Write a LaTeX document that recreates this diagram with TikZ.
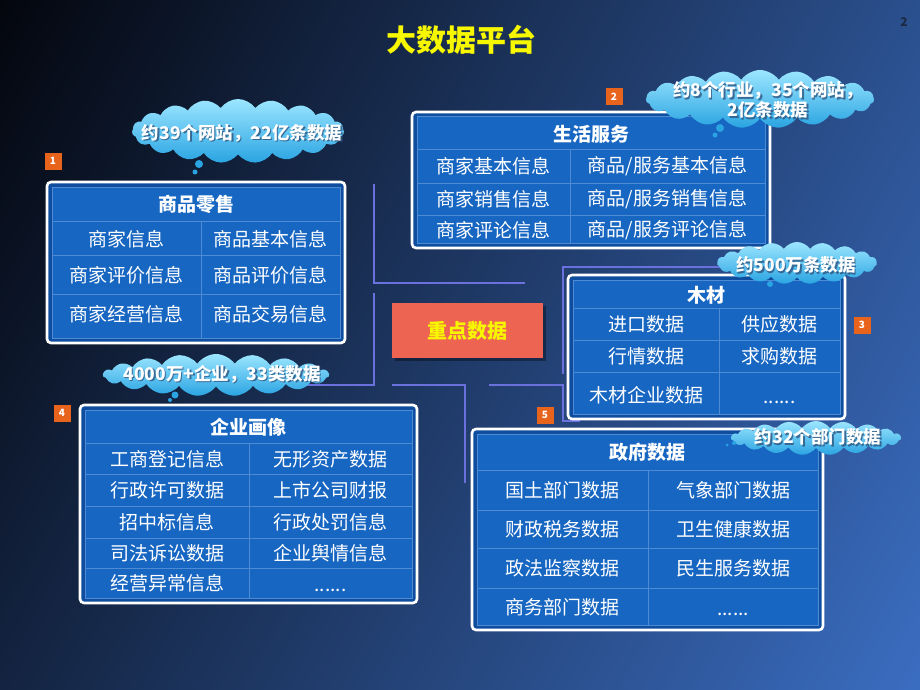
\documentclass[tikz,border=0pt]{standalone}
\usepackage{fontspec}
\setmainfont{Noto Sans CJK SC}
\usetikzlibrary{shapes.symbols}
\definecolor{bgdark}{HTML}{020308}
\definecolor{bgmid}{HTML}{14294F}
\definecolor{bglight}{HTML}{3C70C6}
\definecolor{framedark}{HTML}{0F4E9E}
\definecolor{cellblue}{HTML}{1766C2}
\definecolor{gridblue}{HTML}{4F8AD4}
\definecolor{linkblue}{HTML}{6A70DC}
\definecolor{numorange}{HTML}{E8641C}
\definecolor{cloudtop}{HTML}{9CE6FF}
\definecolor{cloudbot}{HTML}{2AA4E2}
\definecolor{shadowc}{HTML}{2D5580}
\definecolor{keyred}{HTML}{EE6452}
\definecolor{titleyellow}{HTML}{F7F700}
\definecolor{pagenum}{HTML}{1B2A44}
\begin{document}
\begin{tikzpicture}[x=1pt,y=-1pt,
  tableframe/.style={draw=white, line width=2.6pt, rounded corners=4pt, fill=framedark},
  cellbg/.style={fill=cellblue},
  tablegrid/.style={draw=gridblue, line width=1pt},
  celltext/.style={text=white, font=\fontsize{19}{22}\selectfont, inner sep=0pt},
  dotstext/.style={text=white, font=\fontsize{19}{22}\selectfont, inner sep=0pt, yshift=-7pt},
  headtext/.style={text=white, font=\bfseries\fontsize{19}{22}\selectfont, inner sep=0pt},
  link/.style={draw=linkblue, line width=2.2pt},
  numbox/.style={fill=numorange, text=white, font=\bfseries\fontsize{10}{10}\selectfont, minimum size=17pt, inner sep=0pt},
  cloudshape/.style={cloud, cloud puffs=19, cloud puff arc=110, cloud ignores aspect, top color=cloudtop, bottom color=cloudbot, draw=none, inner sep=0pt},
  cloudtxt/.style={text=white, font=\bfseries\fontsize{17.5}{20}\selectfont, align=center, inner sep=0pt},
  cloudshadow/.style={text=shadowc, font=\bfseries\fontsize{17.5}{20}\selectfont, align=center, inner sep=0pt, opacity=0.8},
  bubble/.style={circle, fill=cloudbot, inner sep=0pt}
]
\useasboundingbox (0,0) rectangle (920,690);
% background
\shade[top color=bgdark, middle color=bgmid, bottom color=bglight, shading angle=62] (-200,-150) rectangle (1120,840);

% decorative connectors
\coordinate (a1) at (374,184); \coordinate (a2) at (374,283); \coordinate (a3) at (525,283);
\coordinate (b1) at (374,293); \coordinate (b2) at (374,385); \coordinate (b3) at (300,385);
\coordinate (c1) at (392,385); \coordinate (c2) at (465,385); \coordinate (c3) at (465,483);
\coordinate (d1) at (725,267); \coordinate (d2) at (563,267); \coordinate (d3) at (563,374);
\coordinate (e1) at (489,385); \coordinate (e2) at (563,385); \coordinate (e3) at (563,421); \coordinate (e4) at (580,421);
\draw[link] (a1) -- (a2) -- (a3);
\draw[link] (b1) -- (b2) -- (b3);
\draw[link] (c1) -- (c2) -- (c3);
\draw[link] (d1) -- (d2) -- (d3);
\draw[link] (e1) -- (e2) -- (e3) -- (e4);

% ---------- Box 1: 商品零售 ----------
\draw[tableframe] (47,182) rectangle (345,343);
\fill[cellbg] (52,187) rectangle (340,338);
\draw[tablegrid] (52,187) rectangle (340,338);
\draw[tablegrid] (52,221) -- (340,221) (52,255) -- (340,255) (52,294) -- (340,294) (201,221) -- (201,338);
\node[headtext] (t1) at (196,204) {商品零售};
\node[celltext] (t1a) at (126.5,239) {商家信息};
\node[celltext] (t1b) at (270.5,239) {商品基本信息};
\node[celltext] (t1c) at (126.5,275) {商家评价信息};
\node[celltext] (t1d) at (270.5,275) {商品评价信息};
\node[celltext] (t1e) at (126.5,314) {商家经营信息};
\node[celltext] (t1f) at (270.5,314) {商品交易信息};

% ---------- Box 2: 生活服务 ----------
\draw[tableframe] (412,112) rectangle (770,248);
\fill[cellbg] (417,117) rectangle (765,243);
\draw[tablegrid] (417,117) rectangle (765,243);
\draw[tablegrid] (417,149) -- (765,149) (417,183) -- (765,183) (417,215) -- (765,215) (570,149) -- (570,243);
\node[headtext] (t2) at (591,134) {生活服务};
\node[celltext] (t2a) at (493.5,166) {商家基本信息};
\node[celltext] (t2b) at (667.5,166) {商品/服务基本信息};
\node[celltext] (t2c) at (493.5,199) {商家销售信息};
\node[celltext] (t2d) at (667.5,199) {商品/服务销售信息};
\node[celltext] (t2e) at (493.5,230) {商家评论信息};
\node[celltext] (t2f) at (667.5,230) {商品/服务评论信息};

% ---------- Box 3: 木材 ----------
\draw[tableframe] (568,275) rectangle (845,419);
\fill[cellbg] (573,280) rectangle (840,414);
\draw[tablegrid] (573,280) rectangle (840,414);
\draw[tablegrid] (573,308) -- (840,308) (573,340) -- (840,340) (573,372) -- (840,372) (719,308) -- (719,414);
\node[headtext] (t3) at (706,295) {木材};
\node[celltext] (t3a) at (646,324) {进口数据};
\node[celltext] (t3b) at (779.5,324) {供应数据};
\node[celltext] (t3c) at (646,356) {行情数据};
\node[celltext] (t3d) at (779.5,356) {求购数据};
\node[celltext] (t3e) at (646,395) {木材企业数据};
\node[dotstext] (t3f) at (779.5,395) {......};

% ---------- Box 4: 企业画像 ----------
\draw[tableframe] (80,405) rectangle (417,603);
\fill[cellbg] (85,410) rectangle (412,598);
\draw[tablegrid] (85,410) rectangle (412,598);
\draw[tablegrid] (85,443) -- (412,443) (85,474) -- (412,474) (85,506) -- (412,506) (85,538) -- (412,538) (85,568) -- (412,568) (249,443) -- (249,598);
\node[headtext] (t4) at (248,427) {企业画像};
\node[celltext] (t4a) at (167,459) {工商登记信息};
\node[celltext] (t4b) at (330.5,459) {无形资产数据};
\node[celltext] (t4c) at (167,490) {行政许可数据};
\node[celltext] (t4d) at (330.5,490) {上市公司财报};
\node[celltext] (t4e) at (167,522) {招中标信息};
\node[celltext] (t4f) at (330.5,522) {行政处罚信息};
\node[celltext] (t4g) at (167,553) {司法诉讼数据};
\node[celltext] (t4h) at (330.5,553) {企业舆情信息};
\node[celltext] (t4i) at (167,583) {经营异常信息};
\node[dotstext] (t4j) at (330.5,583) {......};

% ---------- Box 5: 政府数据 ----------
\draw[tableframe] (472,429) rectangle (823,630);
\fill[cellbg] (477,434) rectangle (818,625);
\draw[tablegrid] (477,434) rectangle (818,625);
\draw[tablegrid] (477,470) -- (818,470) (477,510) -- (818,510) (477,548) -- (818,548) (477,588) -- (818,588) (648,470) -- (648,625);
\node[headtext] (t5) at (647,452) {政府数据};
\node[celltext] (t5a) at (562.5,490) {国土部门数据};
\node[celltext] (t5b) at (733,490) {气象部门数据};
\node[celltext] (t5c) at (562.5,529) {财政税务数据};
\node[celltext] (t5d) at (733,529) {卫生健康数据};
\node[celltext] (t5e) at (562.5,568) {政法监察数据};
\node[celltext] (t5f) at (733,568) {民生服务数据};
\node[celltext] (t5g) at (562.5,607) {商务部门数据};
\node[dotstext] (t5h) at (733,607) {......};

% ---------- centre ----------
\fill[black, opacity=0.35] (395,306) rectangle (546,361);
\node[fill=keyred, minimum width=151pt, minimum height=55pt, inner sep=0pt, text=titleyellow, font=\bfseries\fontsize{20}{24}\selectfont] (key) at (467.5,330.5) {重点数据};

% ---------- number markers ----------
\node[numbox] (n1) at (53,161) {1};
\node[numbox] (n2) at (614,97) {2};
\node[numbox] (n3) at (862,325) {3};
\node[numbox] (n4) at (62,413) {4};
\node[numbox] (n5) at (545,415) {5};

% ---------- clouds ----------
\node[cloudshape, minimum width=212pt, minimum height=64pt] (cl1) at (238,131) {};
\node[bubble, minimum size=8pt] (bu1a) at (199,164) {};
\node[bubble, minimum size=5pt] (bu1b) at (195,172) {};
\node[cloudshadow] (cs1) at (243.5,134.5) {约39个网站，22亿条数据};
\node[cloudtxt] (ct1) at (242,133) {约39个网站，22亿条数据};

\node[cloudshape, minimum width=228pt, minimum height=58pt] (cl2) at (760,99) {};
\node[bubble, minimum size=8pt] (bu2a) at (720,128) {};
\node[bubble, minimum size=5pt] (bu2b) at (715,135) {};
\node[cloudshadow] (cs2) at (769.5,101.5) {约8个行业，35个网站，\\2亿条数据};
\node[cloudtxt] (ct2) at (768,100) {约8个行业，35个网站，\\2亿条数据};

\node[cloudshape, minimum width=160pt, minimum height=42pt] (cl3) at (797,263) {};
\node[bubble, minimum size=6pt] (bu3a) at (770,284) {};
\node[cloudshadow] (cs3) at (797.5,266.5) {约500万条数据};
\node[cloudtxt] (ct3) at (796,265) {约500万条数据};

\node[cloudshape, minimum width=226pt, minimum height=42pt] (cl4) at (216,375) {};
\node[bubble, minimum size=7pt] (bu4a) at (175,395) {};
\node[bubble, minimum size=4pt] (bu4b) at (170,400) {};
\node[cloudshadow] (cs4) at (223.5,375.5) {4000万+企业，33类数据};
\node[cloudtxt] (ct4) at (222,374) {4000万+企业，33类数据};

\node[cloudshape, minimum width=170pt, minimum height=34pt] (cl5) at (816,438) {};
\node[bubble, minimum size=4pt] (bu5a) at (734,443) {};
\node[bubble, minimum size=3pt] (bu5b) at (727,445) {};
\node[cloudshadow] (cs5) at (819.5,438.5) {约32个部门数据};
\node[cloudtxt] (ct5) at (818,437) {约32个部门数据};

% ---------- title ----------
\node[text=titleyellow, font=\bfseries\fontsize{30}{34}\selectfont, inner sep=0pt] (title) at (461,40) {大数据平台};
\node[text=pagenum, font=\bfseries\fontsize{12}{12}\selectfont, inner sep=0pt] (page) at (904,22) {2};
\end{tikzpicture}
\end{document}
